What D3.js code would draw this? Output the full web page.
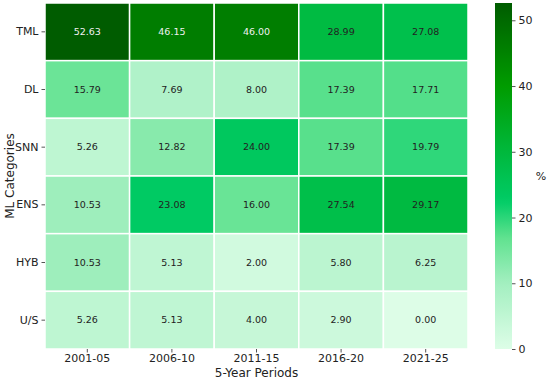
<!DOCTYPE html>
<html>
<head>
<meta charset="utf-8">
<script src="https://cdn.jsdelivr.net/npm/d3@7"></script>
<style>
  body { margin: 0; background: #fff; }
  text { font-family: "DejaVu Sans", sans-serif; }
</style>
</head>
<body>
<script>
var width = 550,
    height = 379;

var periods = ['2001-05', '2006-10', '2011-15', '2016-20', '2021-25'];
var categories = ['TML', 'DL', 'SNN', 'ENS', 'HYB', 'U/S'];

// one row per category, one value per period (%)
var TML = [52.63, 46.15, 46.00, 28.99, 27.08];
var DL  = [15.79, 7.69, 8.00, 17.39, 17.71];
var SNN = [5.26, 12.82, 24.00, 17.39, 19.79];
var ENS = [10.53, 23.08, 16.00, 27.54, 29.17];
var HYB = [10.53, 5.13, 2.00, 5.80, 6.25];
var US  = [5.26, 5.13, 4.00, 2.90, 0.00];
var rows = [TML, DL, SNN, ENS, HYB, US];

var cbTicks = [0, 10, 20, 30, 40, 50];

var margin = {left: 45, top: 3, right: 82, bottom: 30};
var vmax = 52.63;

var cells = [];
rows.forEach(function(r, i) {
    r.forEach(function(v, j) {
        cells.push({cat: categories[i], per: periods[j], v: v});
    });
});

var svg = d3.select('body')
    .append('svg')
    .attr('width', width)
    .attr('height', height);

var x = d3.scaleBand()
    .domain(periods)
    .range([margin.left, width - margin.right]);

var y = d3.scaleBand()
    .domain(categories)
    .range([margin.top, height - margin.bottom]);

var color = d3.scaleLinear()
    .domain([0, 10, 17, 22.5, 30, 40, vmax])
    .range(['#ddfde7', '#a3efc0', '#5fe28f', '#00cc66', '#00b83c', '#009c00', '#005c00'])
    .clamp(true);

svg.selectAll('rect.cell')
    .data(cells)
    .enter()
    .append('rect')
    .classed('cell', true)
    .attr('x', function(d) { return x(d.per); })
    .attr('y', function(d) { return y(d.cat); })
    .attr('width', x.bandwidth())
    .attr('height', y.bandwidth())
    .style('fill', function(d) { return color(d.v); })
    .style('stroke', '#fff')
    .style('stroke-width', 1.5);

svg.selectAll('text.val')
    .data(cells)
    .enter()
    .append('text')
    .classed('val', true)
    .attr('x', function(d) { return x(d.per) + x.bandwidth() / 2; })
    .attr('y', function(d) { return y(d.cat) + y.bandwidth() / 2; })
    .attr('dy', '0.35em')
    .attr('text-anchor', 'middle')
    .style('font-size', '9.5px')
    .style('fill', function(d) { return d.v > 40 ? '#f0f0f0' : '#222'; })
    .text(function(d) { return d.v.toFixed(2); });

var xAxis = svg.append('g')
    .attr('transform', 'translate(0,' + (height - margin.bottom) + ')')
    .call(d3.axisBottom(x).tickSize(3.5).tickPadding(2));

var yAxis = svg.append('g')
    .attr('transform', 'translate(' + margin.left + ',0)')
    .call(d3.axisLeft(y).tickSize(3.5).tickPadding(3));

[xAxis, yAxis].forEach(function(g) {
    g.select('.domain').remove();
    g.selectAll('line').style('stroke', '#555');
    g.selectAll('text').style('font-size', '11px').style('fill', '#222')
        .style('font-family', '"DejaVu Sans", sans-serif');
});

svg.append('text')
    .attr('x', (margin.left + width - margin.right) / 2)
    .attr('y', 377)
    .attr('text-anchor', 'middle')
    .style('font-size', '12px')
    .style('fill', '#222')
    .text('5-Year Periods');

svg.append('text')
    .attr('transform', 'translate(14,' + (margin.top + height - margin.bottom) / 2 + ') rotate(-90)')
    .attr('text-anchor', 'middle')
    .style('font-size', '12px')
    .style('fill', '#222')
    .text('ML Categories');

// colorbar
var cbX = 495, cbW = 17;
var cy = d3.scaleLinear()
    .domain([0, vmax])
    .range([height - margin.bottom, margin.top]);

var defs = svg.append('defs');
var grad = defs.append('linearGradient')
    .attr('id', 'cbgrad')
    .attr('x1', 0).attr('y1', 1).attr('x2', 0).attr('y2', 0);
d3.range(0, 1.0001, 0.02).forEach(function(t) {
    grad.append('stop')
        .attr('offset', t)
        .attr('stop-color', color(t * vmax));
});

svg.append('rect')
    .attr('x', cbX)
    .attr('y', cy(vmax))
    .attr('width', cbW)
    .attr('height', cy(0) - cy(vmax))
    .style('fill', 'url(#cbgrad)');

var cbAxis = svg.append('g')
    .attr('transform', 'translate(' + (cbX + cbW) + ',0)')
    .call(d3.axisRight(cy).tickValues(cbTicks).tickSize(3.5).tickPadding(3));
cbAxis.select('.domain').remove();
cbAxis.selectAll('line').style('stroke', '#555');
cbAxis.selectAll('text').style('font-size', '11px').style('fill', '#222')
    .style('font-family', '"DejaVu Sans", sans-serif');

svg.append('text')
    .attr('x', 541)
    .attr('y', cy(vmax / 2))
    .attr('dy', '0.35em')
    .attr('text-anchor', 'middle')
    .style('font-size', '11px')
    .style('fill', '#222')
    .text('%');
</script>
</body>
</html>
